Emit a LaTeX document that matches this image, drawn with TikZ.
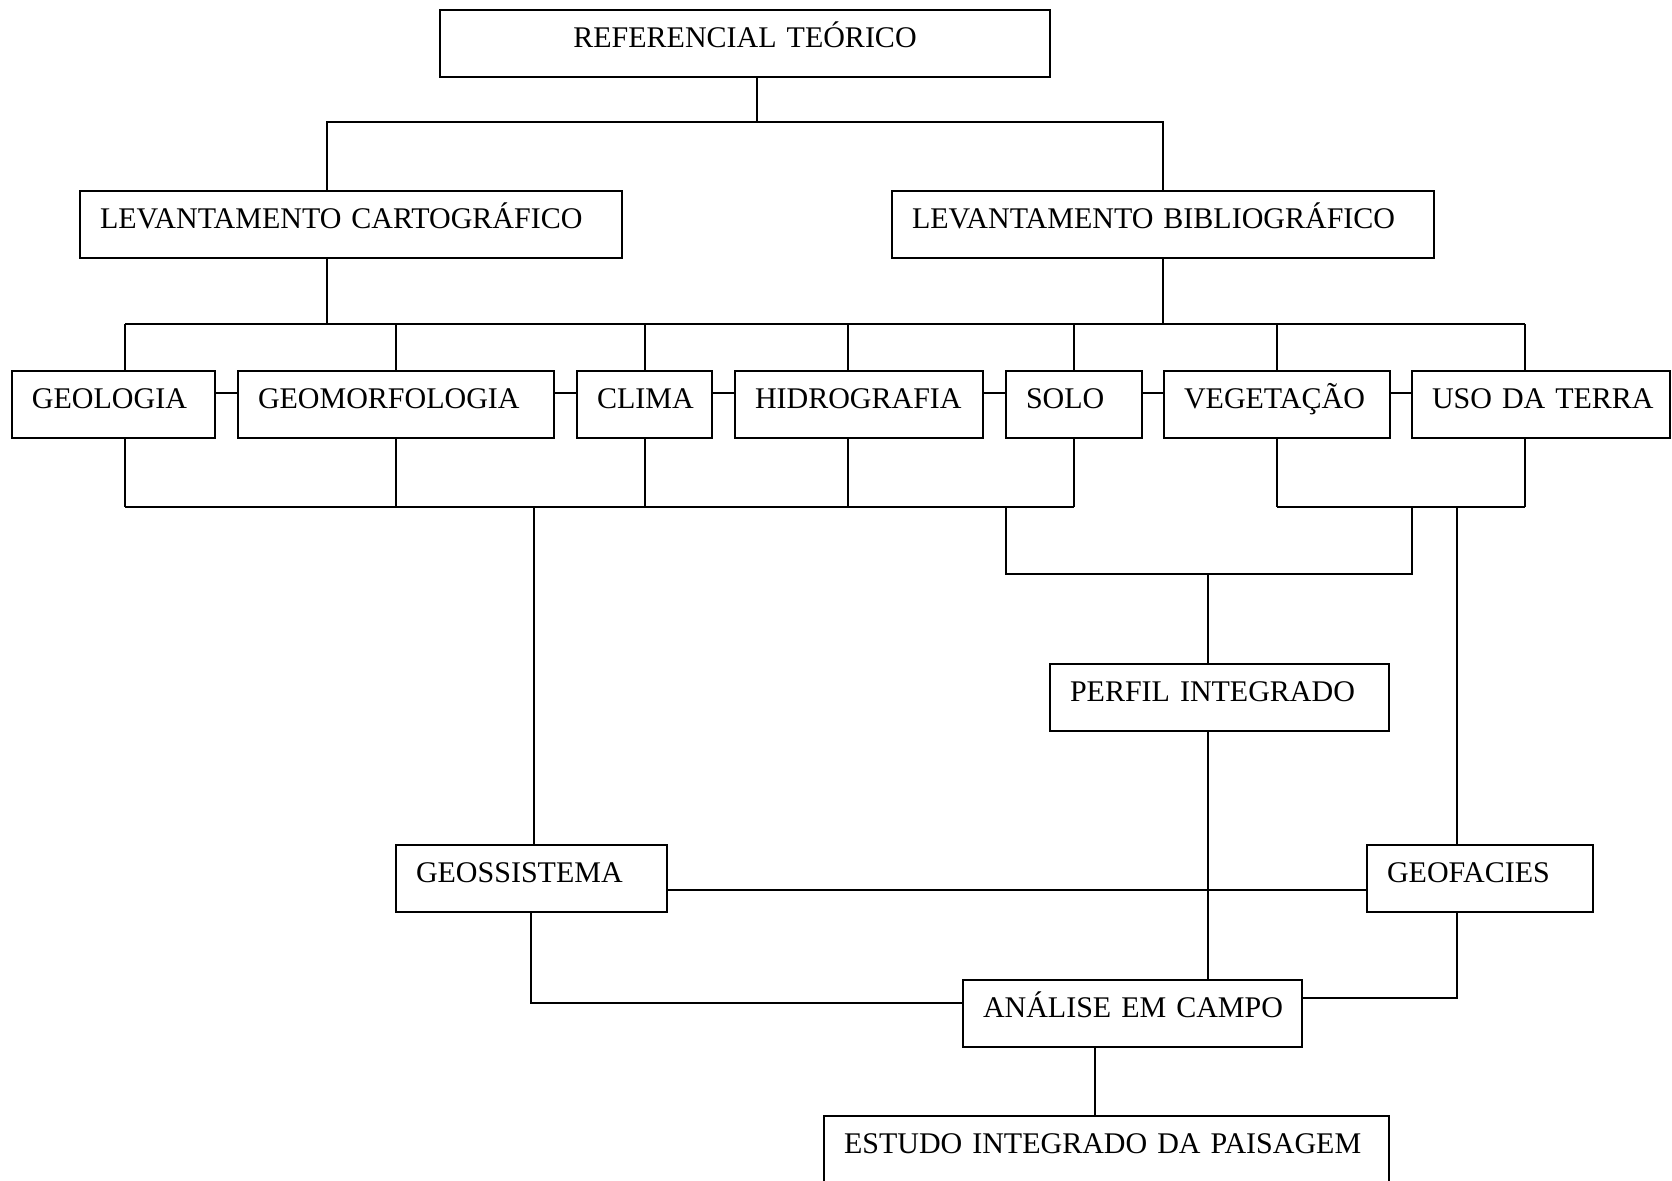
\documentclass[tikz,border=0pt]{standalone}
\usepackage{fontspec}
\setmainfont{Liberation Serif}
\hfuzz=20pt
\begin{document}
\begin{tikzpicture}[x=0.5pt,y=-0.5pt,
  box/.style={draw, line width=1pt, anchor=north west, outer sep=0pt, inner xsep=10pt, inner ysep=0pt,
    text height=18.5pt, text depth=15pt, align=left, font=\fontsize{15pt}{18pt}\selectfont},
  conn/.style={line width=0.9pt}]
\useasboundingbox (0,0) rectangle (1672,1180);
% boxes
\node[box, text width=285pt, align=center] (ref) at (440,10) {\mbox{REFERENCIAL TEÓRICO}};
\node[box, text width=251pt] (cart) at (80,191) {\mbox{LEVANTAMENTO CARTOGRÁFICO}};
\node[box, text width=251pt] (bib) at (892,191) {\mbox{LEVANTAMENTO BIBLIOGRÁFICO}};
\node[box, text width=81.5pt] (geol) at (12,371) {GEOLOGIA};
\node[box, text width=138pt] (geom) at (238,371) {GEOMORFOLOGIA};
\node[box, text width=47.5pt] (clima) at (577,371) {CLIMA};
\node[box, text width=104pt] (hidro) at (735,371) {HIDROGRAFIA};
\node[box, text width=48pt] (solo) at (1006,371) {SOLO};
\node[box, text width=93pt] (veg) at (1164,371) {VEGETAÇÃO};
\node[box, text width=109pt] (uso) at (1412,371) {\mbox{USO DA TERRA}};
\node[box, text width=149.5pt] (perfil) at (1050,664) {\mbox{PERFIL INTEGRADO}};
\node[box, text width=115.5pt] (geoss) at (396,845) {GEOSSISTEMA};
\node[box, text width=93pt] (geof) at (1367,845) {GEOFACIES};
\node[box, text width=149.5pt] (anal) at (963,980) {\mbox{ANÁLISE EM CAMPO}};
\node[box, text width=262.5pt] (estudo) at (824,1116) {\mbox{ESTUDO INTEGRADO DA PAISAGEM}};
% top connectors
\coordinate (jref) at (757,122);
\coordinate (jcart) at (327,122);
\coordinate (jbib) at (1163,122);
\draw[conn] (ref.south -| jref) -- (jref);
\draw[conn] (cart.north -| jcart) -- (jcart) -- (jbib) -- (bib.north -| jbib);
% upper bus
\coordinate (busL) at (125,324);
\coordinate (busR) at (1525,324);
\draw[conn] (cart.south -| jcart) -- (jcart |- busL);
\draw[conn] (bib.south -| jbib) -- (jbib |- busL);
\draw[conn] (busL) -- (busR);
\foreach \n/\x in {geol/125, geom/396, clima/645, hidro/848, solo/1074, veg/1277, uso/1525}{
  \coordinate (t\n) at (\x,324);
  \draw[conn] (t\n) -- (\n.north -| t\n);
  \coordinate (b\n) at (\x,507);
  \draw[conn] (\n.south -| b\n) -- (b\n);
}
% row links
\coordinate (ry) at (0,393);
\draw[conn] (geol.east |- ry) -- (geom.west |- ry);
\draw[conn] (geom.east |- ry) -- (clima.west |- ry);
\draw[conn] (clima.east |- ry) -- (hidro.west |- ry);
\draw[conn] (hidro.east |- ry) -- (solo.west |- ry);
\draw[conn] (solo.east |- ry) -- (veg.west |- ry);
\draw[conn] (veg.east |- ry) -- (uso.west |- ry);
% lower buses
\draw[conn] (bgeol) -- (bsolo);
\draw[conn] (bveg) -- (buso);
\coordinate (jgs) at (534,507);
\draw[conn] (jgs) -- (geoss.north -| jgs);
\coordinate (brL) at (1006,507);
\coordinate (brR) at (1412,507);
\coordinate (brLd) at (1006,574);
\coordinate (brRd) at (1412,574);
\draw[conn] (brL) -- (brLd) -- (brRd) -- (brR);
\coordinate (jpf) at (1208,574);
\draw[conn] (jpf) -- (perfil.north -| jpf);
\draw[conn] (perfil.south -| jpf) -- (anal.north -| jpf);
\coordinate (jgf) at (1457,507);
\draw[conn] (jgf) -- (geof.north -| jgf);
% bottom
\coordinate (hy) at (0,890);
\draw[conn] (geoss.east |- hy) -- (geof.west |- hy);
\coordinate (gsb) at (531,1003);
\draw[conn] (geoss.south -| gsb) -- (gsb) -- (anal.west |- gsb);
\coordinate (gfb) at (1457,998);
\draw[conn] (geof.south -| gfb) -- (gfb) -- (anal.east |- gfb);
\coordinate (ae) at (1095,0);
\draw[conn] (anal.south -| ae) -- (estudo.north -| ae);
\end{tikzpicture}
\end{document}
